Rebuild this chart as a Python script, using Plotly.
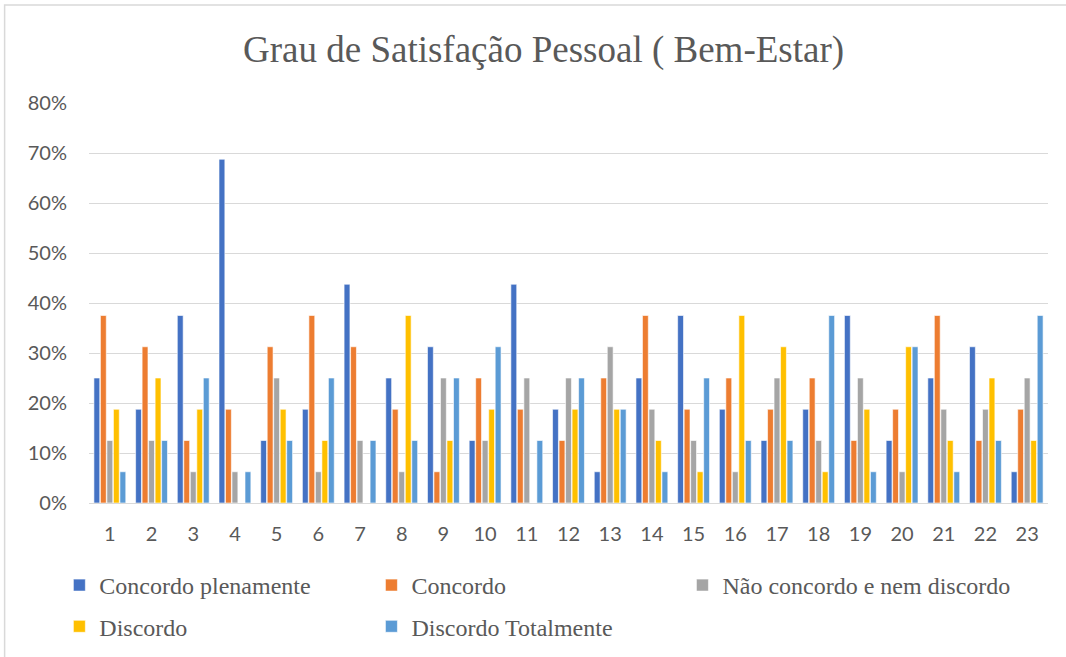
import plotly.graph_objects as go

categories = [str(i) for i in range(1, 24)]
series_names = ["Concordo plenamente", "Concordo", "Não concordo e nem discordo", "Discordo", "Discordo Totalmente"]
concordo_plenamente = [25, 18.75, 37.5, 68.75, 12.5, 18.75, 43.75, 25, 31.25, 12.5, 43.75, 18.75, 6.25, 25, 37.5, 18.75, 12.5, 18.75, 37.5, 12.5, 25, 31.25, 6.25]
concordo = [37.5, 31.25, 12.5, 18.75, 31.25, 37.5, 31.25, 18.75, 6.25, 25, 18.75, 12.5, 25, 37.5, 18.75, 25, 18.75, 25, 12.5, 18.75, 37.5, 12.5, 18.75]
nem = [12.5, 12.5, 6.25, 6.25, 25, 6.25, 12.5, 6.25, 25, 12.5, 25, 25, 31.25, 18.75, 12.5, 6.25, 25, 12.5, 25, 6.25, 18.75, 18.75, 25]
discordo = [18.75, 25, 18.75, 0, 18.75, 12.5, 0, 37.5, 12.5, 18.75, 0, 18.75, 18.75, 12.5, 6.25, 37.5, 31.25, 6.25, 18.75, 31.25, 12.5, 25, 12.5]
discordo_totalmente = [6.25, 12.5, 25, 6.25, 12.5, 25, 12.5, 12.5, 25, 31.25, 12.5, 25, 18.75, 6.25, 25, 12.5, 12.5, 37.5, 6.25, 31.25, 6.25, 12.5, 37.5]
colors = ["#4472C4", "#ED7D31", "#A5A5A5", "#FFC000", "#5B9BD5"]
legend_slot = ["legend", "legend2", "legend3", "legend", "legend2"]

fig = go.Figure()
for i, (name, vals, c) in enumerate(zip(series_names, [concordo_plenamente, concordo, nem, discordo, discordo_totalmente], colors)):
    fig.add_trace(go.Bar(x=categories, y=vals, name=name, legend=legend_slot[i], legendgroup=f"g{i}",
                         marker=dict(color=c, line=dict(color="white", width=0.6))))

leg_font = dict(family="Liberation Serif", size=24, color="#595959")
leg_common = dict(orientation="v", y=-0.15, xanchor="left", yanchor="top", tracegroupgap=7,
                  font=leg_font, bgcolor="rgba(0,0,0,0)")

fig.update_layout(
    width=1066, height=657,
    margin=dict(l=89, r=18, t=103, b=154, autoexpand=False),
    paper_bgcolor="white", plot_bgcolor="white",
    barmode="group", bargap=0.22, bargroupgap=0.1,
    showlegend=True,
    legend=dict(x=-0.0309, **leg_common),
    legend2=dict(x=0.2945, **leg_common),
    legend3=dict(x=0.6188, **leg_common),
    annotations=[dict(text="Grau de Satisfação Pessoal ( Bem-Estar)", xref="paper", yref="paper",
                      x=0.474, y=1.1325, xanchor="center", yanchor="middle", showarrow=False,
                      font=dict(family="Liberation Serif", size=37, color="#595959"))],
    shapes=[dict(type="rect", xref="paper", yref="paper", x0=-0.088, x1=1.2, y0=-0.6, y1=1.245,
                 line=dict(color="#D9D9D9", width=1.5), fillcolor="rgba(0,0,0,0)", layer="below")],
)
fig.update_xaxes(showgrid=False, showline=False, zeroline=False, ticks="",
                 tickfont=dict(family="Lato", size=20, color="#595959"), ticklabelstandoff=17)
fig.update_yaxes(range=[0, 80], dtick=10, ticksuffix="%", showgrid=True, gridcolor="#D9D9D9", gridwidth=1.3,
                 zeroline=True, zerolinecolor="#D9D9D9", zerolinewidth=1.3, showline=False, ticks="",
                 tickfont=dict(family="Lato", size=20, color="#595959"), ticklabelstandoff=21)

fig.write_html("out.html", config={"displayModeBar": False},
               post_script="document.body.style.margin='0';document.body.style.overflow='hidden';")
